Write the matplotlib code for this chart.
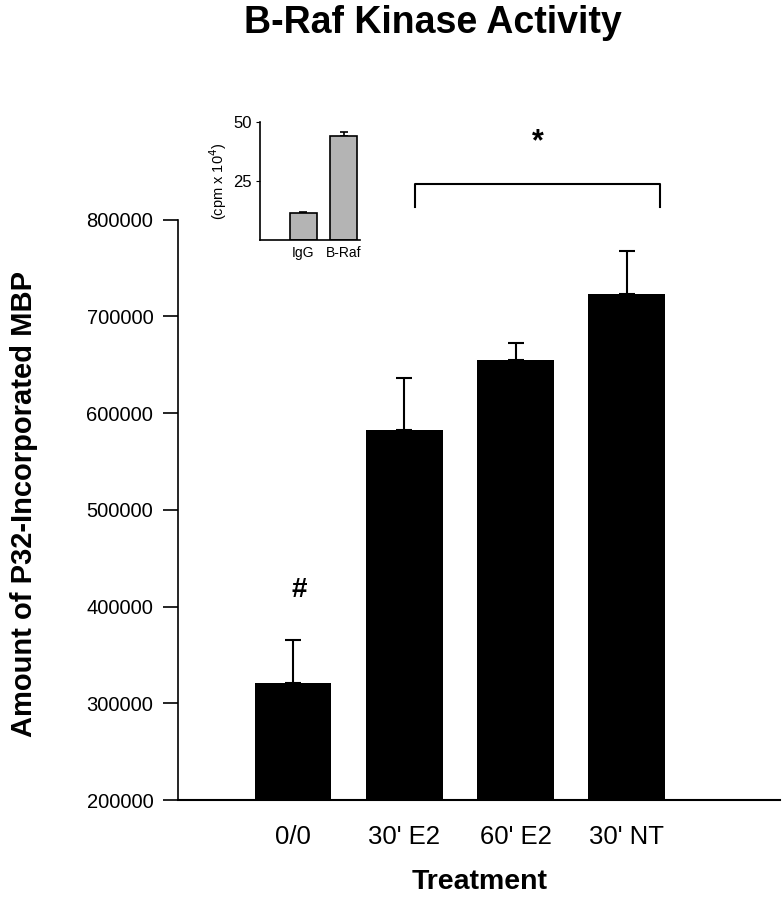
import matplotlib.pyplot as plt
import numpy as np

plt.rcParams['font.family'] = ['Liberation Sans', 'DejaVu Sans']

# main panel data
treatments = ["0/0", "30' E2", "60' E2", "30' NT"]
mbp_mean = [321000, 583000, 655000, 723000]
mbp_err = [44000, 53000, 17000, 45000]

# inset data
inset_labels = ["IgG", "B-Raf"]
inset_mean = [11.5, 44.0]
inset_err = [0.4, 1.8]

fig = plt.figure(figsize=(7.82, 9), dpi=100)

ax = fig.add_axes([0.228, 0.111, 0.77, 0.645])
x = np.arange(len(treatments))
ax.bar(x, mbp_mean, width=0.69, color='black', zorder=2)
ax.errorbar(x, mbp_mean, yerr=[np.zeros(len(x)), mbp_err], fmt='none',
            ecolor='black', elinewidth=1.5, capsize=6, capthick=1.5, zorder=1)
ax.set_ylim(200000, 800000)
ax.set_xlim(-1.03, 4.38)
ax.set_yticks(np.arange(200000, 800001, 100000))
ax.set_yticklabels([str(v) for v in range(200000, 800001, 100000)], fontsize=14.5)
ax.set_xticks(x)
ax.set_xticklabels(treatments, fontsize=18.5)
ax.tick_params(axis='x', length=0, pad=18)
ax.tick_params(axis='y', length=11, width=1.2, pad=7)
for s in ['top', 'right']:
    ax.spines[s].set_visible(False)
ax.spines['left'].set_linewidth(1.2)
ax.spines['bottom'].set_linewidth(1.5)

fig.text(24 / 782, 0.44, 'Amount of P32-Incorporated MBP', rotation=90,
         ha='center', va='center', fontsize=21, fontweight='bold')
fig.text(480 / 782, 1 - 882 / 900, 'Treatment', ha='center', va='center',
         fontsize=20.5, fontweight='bold')

# significance markers
ax.text(0.06, 417000, '#', ha='center', va='center', fontsize=20, fontweight='bold')
ax.plot([1.1, 1.1, 3.3, 3.3], [813000, 837000, 837000, 813000], color='black',
        lw=1.5, clip_on=False)
ax.text(2.2, 880000, '*', ha='center', va='center', fontsize=22, fontweight='bold')

fig.text(433 / 782, 0.974, 'B-Raf Kinase Activity', ha='center', va='center',
         fontsize=27, fontweight='bold')

# inset
axi = fig.add_axes([0.3325, 0.7333, 0.128, 0.131])
xi = np.arange(len(inset_labels))
axi.bar(xi, inset_mean, width=0.67, color='#b4b4b4', edgecolor='black', lw=1.2, zorder=2)
axi.errorbar(xi, inset_mean, yerr=[np.zeros(len(xi)), inset_err], fmt='none',
             ecolor='black', elinewidth=1.2, capsize=3, capthick=1.2, zorder=1)
axi.set_ylim(0, 50)
axi.set_xlim(-1.07, 1.4)
axi.set_yticks([25, 50])
axi.set_yticklabels(['25', '50'], fontsize=12)
axi.set_xticks(xi)
axi.set_xticklabels(inset_labels, fontsize=10)
axi.tick_params(axis='x', length=0, pad=4)
axi.tick_params(axis='y', length=3, pad=3)
for s in ['top', 'right']:
    axi.spines[s].set_visible(False)
axi.spines['left'].set_linewidth(1.2)
axi.spines['bottom'].set_linewidth(1.2)
axi.set_ylabel('(cpm x 10$^{4}$)', fontsize=10.5, labelpad=3)

fig.savefig('out.png', dpi=100)
